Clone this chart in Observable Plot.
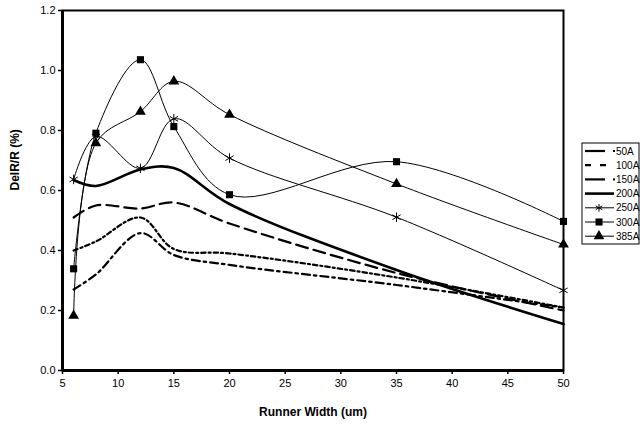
<!DOCTYPE html>
<html>
<head>
<meta charset="utf-8">
<script src="https://cdn.jsdelivr.net/npm/d3@7"></script>
<script src="https://cdn.jsdelivr.net/npm/@observablehq/plot@0.6"></script>
<style>
  html, body { margin: 0; padding: 0; background: #fff; }
  #wrap { position: relative; width: 640px; height: 428px; }
  #legend { position: absolute; left: 0; top: 0; }
</style>
</head>
<body>
<div id="wrap"></div>
<script>
const widths = [6, 8, 12, 15, 20, 35, 50];
const seriesNames = ["50A", "100A", "150A", "200A", "250A", "300A", "385A"];
const s50  = [0.27, 0.32, 0.458, 0.385, 0.352, 0.285, 0.21];
const s100 = [0.40, 0.43, 0.51, 0.405, 0.39, 0.31, 0.21];
const s150 = [0.51, 0.55, 0.54, 0.56, 0.49, 0.325, 0.20];
const s200 = [0.635, 0.615, 0.67, 0.675, 0.555, 0.335, 0.155];
const s250 = [0.637, 0.78, 0.674, 0.839, 0.708, 0.511, 0.267];
const s300 = [0.339, 0.791, 1.036, 0.813, 0.586, 0.696, 0.497];
const s385 = [0.183, 0.758, 0.863, 0.964, 0.853, 0.622, 0.42];
const xTicks = [5, 10, 15, 20, 25, 30, 35, 40, 45, 50];
const yTicks = [0, 0.2, 0.4, 0.6, 0.8, 1.0, 1.2];

const allValues = [s50, s100, s150, s200, s250, s300, s385];
const styles = {
  "50A":  {strokeWidth: 2.2, dash: "8,4,2.5,4", symbol: null},
  "100A": {strokeWidth: 2.2, dash: "4.5,3,2,3", symbol: null},
  "150A": {strokeWidth: 2.2, dash: "12,6", symbol: null},
  "200A": {strokeWidth: 2.6, dash: null, symbol: null},
  "250A": {strokeWidth: 1, dash: null, symbol: "asterisk"},
  "300A": {strokeWidth: 1, dash: null, symbol: "square"},
  "385A": {strokeWidth: 1, dash: null, symbol: "triangle"}
};
const table = seriesNames.map((name, i) => widths.map((w, j) => ({name, w, v: allValues[i][j]})));

const marks = [];
table.forEach(rows => {
  const st = styles[rows[0].name];
  marks.push(Plot.line(rows, {x: "w", y: "v", curve: "catmull-rom", stroke: "black",
    strokeWidth: st.strokeWidth, strokeDasharray: st.dash || undefined}));
});
table.forEach(rows => {
  const st = styles[rows[0].name];
  if (st.symbol === "asterisk") {
    marks.push(Plot.dot(rows, {x: "w", y: "v", symbol: "asterisk", r: 4.5, stroke: "black", strokeWidth: 1, fill: "none"}));
  } else if (st.symbol) {
    marks.push(Plot.dot(rows, {x: "w", y: "v", symbol: st.symbol, r: 4, fill: "black", stroke: "none"}));
  }
});

const chart = Plot.plot({
  width: 640,
  height: 428,
  marginLeft: 62,
  marginRight: 77,
  marginTop: 10,
  marginBottom: 58,
  style: {fontFamily: "Liberation Sans, Arial, sans-serif", fontSize: "11px", color: "black", background: "white"},
  x: {domain: [5, 50], ticks: xTicks, tickSize: 4, tickPadding: 5, label: null},
  y: {domain: [0, 1.2], ticks: yTicks, tickSize: 4, tickPadding: 3, tickFormat: d3.format(".1f"), label: null},
  marks: [
    Plot.frame({stroke: "black", strokeWidth: 2}),
    ...marks,
    Plot.ruleX([5], {stroke: "black", strokeWidth: 3}),
    Plot.ruleY([0], {stroke: "black", strokeWidth: 3}),
    Plot.axisX({ticks: xTicks, tickSize: 4, tickPadding: 5, strokeWidth: 1.5, label: null}),
    Plot.axisY({ticks: yTicks, tickSize: 4, tickPadding: 3, strokeWidth: 1.5, tickFormat: d3.format(".1f"), label: null}),
    Plot.text(["Runner Width (um)"], {frameAnchor: "bottom", dy: 45, fontWeight: "bold", fontSize: 12}),
    Plot.text(["DelR/R (%)"], {frameAnchor: "left", dx: -47, rotate: -90, fontWeight: "bold", fontSize: 12})
  ]
});
document.getElementById("wrap").appendChild(chart);

// legend
const leg = d3.select("#wrap").append("svg").attr("id", "legend")
  .attr("width", 640).attr("height", 428)
  .style("font-family", "Liberation Sans, Arial, sans-serif");
const lx = 582, ly = 143, lw = 57, lh = 101, step = 14.2;
leg.append("rect").attr("x", lx).attr("y", ly).attr("width", lw).attr("height", lh)
  .attr("fill", "white").attr("stroke", "black").attr("stroke-width", 1);
seriesNames.forEach((name, i) => {
  const st = styles[name];
  const y = ly + 8 + i * step;
  leg.append("line").attr("x1", lx + 3).attr("x2", lx + 32).attr("y1", y).attr("y2", y)
    .attr("stroke", "black").attr("stroke-width", st.strokeWidth)
    .attr("stroke-dasharray", st.dash ? (name === "100A" ? "6,9" : (name === "50A" || name === "150A" ? "20,100" : st.dash)) : null);
  if (name === "50A" || name === "150A") {
    leg.append("rect").attr("x", lx + 31).attr("y", y - 1).attr("width", 2).attr("height", 2).attr("fill", "black");
  }
  if (st.symbol) {
    const sym = st.symbol === "asterisk" ? d3.symbolAsterisk : st.symbol === "square" ? d3.symbolSquare : d3.symbolTriangle;
    const size = st.symbol === "asterisk" ? 40 : 50;
    const p = leg.append("path").attr("d", d3.symbol(sym, size)()).attr("transform", `translate(${lx + 17},${y})`);
    if (st.symbol === "asterisk") p.attr("fill", "none").attr("stroke", "black").attr("stroke-width", 1);
    else p.attr("fill", "black");
  }
  leg.append("text").attr("x", lx + 34).attr("y", y).attr("dy", "0.35em")
    .attr("font-size", 10).text(name);
});
</script>
</body>
</html>
